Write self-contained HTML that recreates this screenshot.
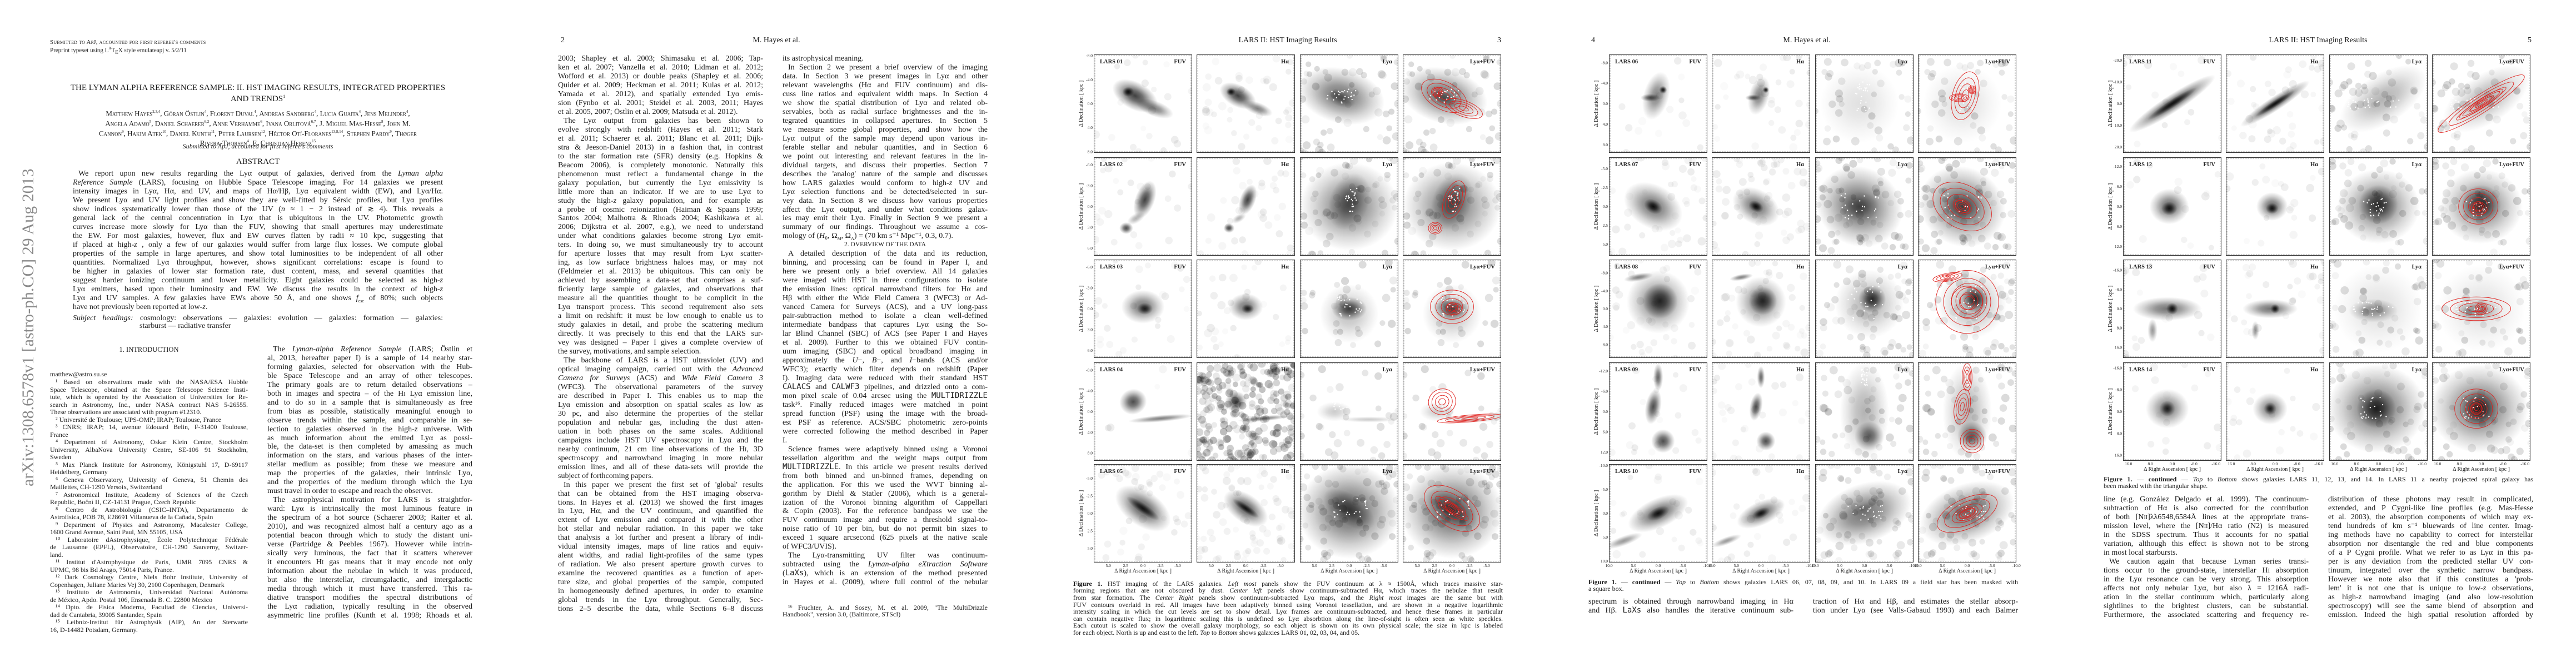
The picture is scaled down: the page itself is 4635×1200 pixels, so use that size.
<!DOCTYPE html>
<html><head><meta charset="utf-8">
<style>
html,body{margin:0;padding:0;background:#fff;}
body{width:4635px;height:1200px;position:relative;overflow:hidden;font-family:"Liberation Serif","DejaVu Serif",serif;color:#1a1a1a;}
.page{position:absolute;top:0;width:927px;height:1200px;}
.l{position:absolute;overflow:hidden;text-align:justify;text-align-last:justify;white-space:normal;}
.l.e{text-align-last:left;}
.c{position:absolute;text-align:center;white-space:nowrap;}
.ab{position:absolute;white-space:nowrap;}
svg text{font-family:"Liberation Serif",serif;}
</style></head>
<body>
<div class="page" id="p1" style="left:0">
  <div class="ab" style="left:90px;top:70px;font-size:11px;font-variant:small-caps;letter-spacing:0.2px">Submitted to ApJ, accounted for first referee's comments</div>
  <div class="ab" style="left:90px;top:83px;font-size:11px">Preprint typeset using L<sup style="font-size:7px">A</sup>T<sub style="font-size:9px">E</sub>X style emulateapj v. 5/2/11</div>
  <div class="c" style="left:90px;width:748px;top:150px;font-size:15px;line-height:16px">THE LYMAN ALPHA REFERENCE SAMPLE: II. HST IMAGING RESULTS, INTEGRATED PROPERTIES<br>AND TRENDS<sup style="font-size:8px">1</sup></div>
  <div class="c" style="left:80px;width:768px;top:194px;font-size:13px;line-height:14.5px;font-variant:small-caps">Matthew Hayes<sup style="font-size:7px">2,3,4</sup>, Göran Östlin<sup style="font-size:7px">4</sup>, Florent Duval<sup style="font-size:7px">4</sup>, Andreas Sandberg<sup style="font-size:7px">4</sup>, Lucia Guaita<sup style="font-size:7px">4</sup>, Jens Melinder<sup style="font-size:7px">4</sup>,<br>Angela Adamo<sup style="font-size:7px">5</sup>, Daniel Schaerer<sup style="font-size:7px">6,2</sup>, Anne Verhamme<sup style="font-size:7px">6</sup>, Ivana Orlitová<sup style="font-size:7px">6,7</sup>, J. Miguel Mas-Hesse<sup style="font-size:7px">8</sup>, John M.<br>Cannon<sup style="font-size:7px">9</sup>, Hakim Atek<sup style="font-size:7px">10</sup>, Daniel Kunth<sup style="font-size:7px">11</sup>, Peter Laursen<sup style="font-size:7px">12</sup>, Héctor Otí-Floranes<sup style="font-size:7px">13,8,14</sup>, Stephen Pardy<sup style="font-size:7px">9</sup>, Thøger<br>Rivera-Thorsen<sup style="font-size:7px">4</sup>, E. Christian Herenz<sup style="font-size:7px">15</sup></div>
  <div class="c" style="left:90px;width:748px;top:256px;font-size:12px;font-style:italic">Submitted to ApJ, accounted for first referee's comments</div>
  <div class="c" style="left:90px;width:748px;top:283px;font-size:15px">ABSTRACT</div>
  <div class="ab" style="left:33px;top:293px;height:593px;font-size:30px;color:#8a8a8a;writing-mode:vertical-rl;transform:rotate(180deg);text-align:center;line-height:36px">arXiv:1308.6578v1 [astro-ph.CO] 29 Aug 2013</div>
  <div class="c" style="left:90px;width:356px;top:622px;font-size:12.5px">1. INTRODUCTION</div>
</div>
<div class="page" id="p2" style="left:927px">
  <div class="ab" style="left:82px;top:65px;font-size:14px">2</div>
  <div class="c" style="left:370px;width:200px;top:65px;font-size:14px">M. Hayes et al.</div>
</div>
<div class="page" id="p3" style="left:1854px">
  <div class="c" style="left:363px;width:200px;top:65px;font-size:14px">LARS II: HST Imaging Results</div>
  <div class="ab" style="left:840px;top:65px;font-size:14px">3</div>
</div>
<div class="page" id="p4" style="left:2781px">
  <div class="ab" style="left:82px;top:65px;font-size:14px">4</div>
  <div class="c" style="left:370px;width:200px;top:65px;font-size:14px">M. Hayes et al.</div>
</div>
<div class="page" id="p5" style="left:3708px">
  <div class="c" style="left:363px;width:200px;top:65px;font-size:14px">LARS II: HST Imaging Results</div>
  <div class="ab" style="left:840px;top:65px;font-size:14px">5</div>
</div>

<script>
function addLines(pageId, name, x, y0, pitch, width, fs, arr){
  const pg=document.getElementById(pageId);
  arr.forEach((s,i)=>{
    const d=document.createElement('div');
    
    
    let last=false, ind=false;
    if(s.endsWith('|')){last=true;s=s.slice(0,-1);}
    if(s.startsWith('>')){ind=true;s=s.slice(1);}
    d.className='l'+(last?' e':'');
    d.style.left=(x+(ind?10:0))+'px';
    d.style.width=(width-(ind?10:0))+'px';
    d.style.top=(y0+i*pitch-pitch/2)+'px';
    d.style.height=pitch+'px';
    d.style.lineHeight=pitch+'px';
    d.style.fontSize=fs+'px';
    d.innerHTML=s;
    pg.appendChild(d);
  });
}
const abstractLines=[
">We report upon new results regarding the Lyα output of galaxies, derived from the <i>Lyman alpha</i>",
"<i>Reference Sample</i> (LARS), focusing on Hubble Space Telescope imaging. For 14 galaxies we present",
"intensity images in Lyα, Hα, and UV, and maps of Hα/Hβ, Lyα equivalent width (EW), and Lyα/Hα.",
"We present Lyα and UV light profiles and show they are well-fitted by Sérsic profiles, but Lyα profiles",
"show indices systematically lower than those of the UV (<i>n</i> ≈ 1 − 2 instead of ≳ 4). This reveals a",
"general lack of the central concentration in Lyα that is ubiquitous in the UV. Photometric growth",
"curves increase more slowly for Lyα than the FUV, showing that small apertures may underestimate",
"the EW. For most galaxies, however, flux and EW curves flatten by radii ≈ 10 kpc, suggesting that",
"if placed at high-<i>z</i> , only a few of our galaxies would suffer from large flux losses. We compute global",
"properties of the sample in large apertures, and show total luminosities to be independent of all other",
"quantities. Normalized Lyα throughput, however, shows significant correlations: escape is found to",
"be higher in galaxies of lower star formation rate, dust content, mass, and several quantities that",
"suggest harder ionizing continuum and lower metallicity. Eight galaxies could be selected as high-<i>z</i>",
"Lyα emitters, based upon their luminosity and EW. We discuss the results in the context of high-<i>z</i>",
"Lyα and UV samples. A few galaxies have EWs above 50 Å, and one shows <i>f</i><sub style='font-size:8px'>esc</sub> of 80%; such objects",
"have not previously been reported at low-<i>z</i>.|",
];
addLines('p1','abstract',131,313,16,666,14,abstractLines);
addLines('p1','subject-headings',131,573,14.5,666,14,[
"<i>Subject headings:</i> cosmology: observations — galaxies: evolution — galaxies: formation — galaxies:",
"<span style='padding-left:120px'></span>starburst — radiative transfer|"]);
addLines('p1','affiliation-footnote',90,674,13.5,356,12,["matthew@astro.su.se|"]);
addLines('p1','affiliation-footnote',90,688,13.5,356,12,[
">¹ Based on observations made with the NASA/ESA Hubble","Space Telescope, obtained at the Space Telescope Science Insti-","tute, which is operated by the Association of Universities for Re-","search in Astronomy, Inc., under NASA contract NAS 5-26555.","These observations are associated with program #12310.|",
">² Université de Toulouse; UPS-OMP; IRAP; Toulouse, France|",">³ CNRS; IRAP; 14, avenue Edouard Belin, F-31400 Toulouse,","France|",
">⁴ Department of Astronomy, Oskar Klein Centre, Stockholm","University, AlbaNova University Centre, SE-106 91 Stockholm,","Sweden|",
">⁵ Max Planck Institute for Astronomy, Königstuhl 17, D-69117","Heidelberg, Germany|",
">⁶ Geneva Observatory, University of Geneva, 51 Chemin des","Maillettes, CH-1290 Versoix, Switzerland|",
">⁷ Astronomical Institute, Academy of Sciences of the Czech","Republic, Boční II, CZ-14131 Prague, Czech Republic|",
">⁸ Centro de Astrobiología (CSIC–INTA), Departamento de","Astrofísica, POB 78, E28691 Villanueva de la Cañada, Spain|",
">⁹ Department of Physics and Astronomy, Macalester College,","1600 Grand Avenue, Saint Paul, MN 55105, USA|",
">¹⁰ Laboratoire dAstrophysique, École Polytechnique Fédérale","de Lausanne (EPFL), Observatoire, CH-1290 Sauverny, Switzer-","land.|",
">¹¹ Institut d'Astrophysique de Paris, UMR 7095 CNRS &","UPMC, 98 bis Bd Arago, 75014 Paris, France.|",
">¹² Dark Cosmology Centre, Niels Bohr Institute, University of","Copenhagen, Juliane Maries Vej 30, 2100 Copenhagen, Denmark|",
">¹³ Instituto de Astronomía, Universidad Nacional Autónoma","de México, Apdo. Postal 106, Ensenada B. C. 22800 Mexico|",
">¹⁴ Dpto. de Física Moderna, Facultad de Ciencias, Universi-","dad de Cantabria, 39005 Santander, Spain|",
">¹⁵ Leibniz-Institut für Astrophysik (AIP), An der Sterwarte","16, D-14482 Potsdam, Germany.|"]);
addLines('p1','intro-text',481,629,15.95,369,14,[
">The <i>Lyman-alpha Reference Sample</i> (LARS; Östlin et","al, 2013, hereafter paper I) is a sample of 14 nearby star-","forming galaxies, selected for observation with the Hub-","ble Space Telescope and an array of other telescopes.","The primary goals are to return detailed observations –","both in images and spectra – of the H<span style='font-variant:small-caps'>i</span> Lyα emission line,","and to do so in a sample that is simultaneously as free","from bias as possible, statistically meaningful enough to","observe trends within the sample, and comparable in se-","lection to galaxies observed in the high-<i>z</i> universe. With","as much information about the emitted Lyα as possi-","ble, the data-set is then completed by amassing as much","information on the stars, and various phases of the inter-","stellar medium as possible; from these we measure and","map the properties of the galaxies, their intrinsic Lyα,","and the properties of the medium through which the Lyα","must travel in order to escape and reach the observer.|",
">The astrophysical motivation for LARS is straightfor-","ward: Lyα is intrinsically the most luminous feature in","the spectrum of a hot source (Schaerer 2003; Raiter et al.","2010), and was recognized almost half a century ago as a","potential beacon through which to study the distant uni-","verse (Partridge &amp; Peebles 1967). However while intrin-","sically very luminous, the fact that it scatters wherever","it encounters H<span style='font-variant:small-caps'>i</span> gas means that it may encode not only","information about the nebulae in which it was produced,","but also the interstellar, circumgalactic, and intergalactic","media through which it must have transferred. This ra-","diative transport modifies the spectral distributions of","the Lyα radiation, typically resulting in the observed","asymmetric line profiles (Kunth et al. 1998; Rhoads et al."]);

addLines('p2','body-text',77,106,15.97,369,14,[
"2003; Shapley et al. 2003; Shimasaku et al. 2006; Tap-","ken et al. 2007; Vanzella et al. 2010; Lidman et al. 2012;","Wofford et al. 2013) or double peaks (Shapley et al. 2006;","Quider et al. 2009; Heckman et al. 2011; Kulas et al. 2012;","Yamada et al. 2012), and spatially extended Lyα emis-","sion (Fynbo et al. 2001; Steidel et al. 2003, 2011; Hayes","et al. 2005, 2007; Östlin et al. 2009; Matsuda et al. 2012).|",
">The Lyα output from galaxies has been shown to","evolve strongly with redshift (Hayes et al. 2011; Stark","et al. 2011; Schaerer et al. 2011; Blanc et al. 2011; Dijk-","stra &amp; Jeeson-Daniel 2013) in a fashion that, in contrast","to the star formation rate (SFR) density (e.g. Hopkins &amp;","Beacom 2006), is completely monotonic. Naturally this","phenomenon must reflect a fundamental change in the","galaxy population, but currently the Lyα emissivity is","little more than an indicator. If we are to use Lyα to","study the high-<i>z</i> galaxy population, and for example as","a probe of cosmic reionization (Haiman &amp; Spaans 1999;","Santos 2004; Malhotra &amp; Rhoads 2004; Kashikawa et al.","2006; Dijkstra et al. 2007, e.g.), we need to understand","under what conditions galaxies become strong Lyα emit-","ters. In doing so, we must simultaneously try to account","for aperture losses that may result from Lyα scatter-","ing, as low surface brightness haloes may, or may not","(Feldmeier et al. 2013) be ubiquitous. This can only be","achieved by assembling a data-set that comprises a suf-","ficiently large sample of galaxies, and observations that","measure all the quantities thought to be complicit in the","Lyα transport process. This second requirement also sets","a limit on redshift: it must be low enough to enable us to","study galaxies in detail, and probe the scattering medium","directly. It was precisely to this end that the LARS sur-","vey was designed – Paper I gives a complete overview of","the survey, motivations, and sample selection.|",
">The backbone of LARS is a HST ultraviolet (UV) and","optical imaging campaign, carried out with the <i>Advanced</i>","<i>Camera for Surveys</i> (ACS) and <i>Wide Field Camera 3</i>","(WFC3). The observational parameters of the survey","are described in Paper I. This enables us to map the","Lyα emission and absorption on spatial scales as low as","30 pc, and also determine the properties of the stellar","population and nebular gas, including the dust atten-","uation in both phases on the same scales. Additional","campaigns include HST UV spectroscopy in Lyα and the","nearby continuum, 21 cm line observations of the H<span style='font-variant:small-caps'>i</span>, 3D","spectroscopy and narrowband imaging in more nebular","emission lines, and all of these data-sets will provide the","subject of forthcoming papers.|",
">In this paper we present the first set of 'global' results","that can be obtained from the HST imaging observa-","tions. In Hayes et al. (2013) we showed the first images","in Lyα, Hα, and the UV continuum, and quantified the","extent of Lyα emission and compared it with the other","hot stellar and nebular radiation. In this paper we take","that analysis a lot further and present a library of indi-","vidual intensity images, maps of line ratios and equiv-","alent widths, and radial light-profiles of the same types","of radiation. We also present aperture growth curves to","examine the recovered quantities as a function of aper-","ture size, and global properties of the sample, computed","in homogeneously defined apertures, in order to examine","global trends in the Lyα throughput. Generally, Sec-","tions 2–5 describe the data, while Sections 6–8 discuss"]);
addLines('p2','body-text',481,106,15.97,369,14,[
"its astrophysical meaning.|",
">In Section 2 we present a brief overview of the imaging","data. In Section 3 we present images in Lyα and other","relevant wavelengths (Hα and FUV continuum) and dis-","cuss line ratios and equivalent width maps. In Section 4","we show the spatial distribution of Lyα and related ob-","servables, both as radial surface brightnesses and the in-","tegrated quantities in collapsed apertures. In Section 5","we measure some global properties, and show how the","Lyα output of the sample may depend upon various in-","ferable stellar and nebular quantities, and in Section 6","we point out interesting and relevant features in the in-","dividual targets, and discuss their properties. Section 7","describes the 'analog' nature of the sample and discusses","how LARS galaxies would conform to high-<i>z</i> UV and","Lyα selection functions and be detected/selected in sur-","vey data. In Section 8 we discuss how various properties","affect the Lyα output, and under what conditions galax-","ies may emit their Lyα. Finally in Section 9 we present a","summary of our findings. Throughout we assume a cos-","mology of (<i>H</i>₀, Ω<sub style='font-size:8px'>M</sub>, Ω<sub style='font-size:8px'>Λ</sub>) = (70 km s⁻¹ Mpc⁻¹, 0.3, 0.7).|",
"<div style='text-align:center;text-align-last:center;font-size:11.5px'>2. OVERVIEW OF THE DATA</div>|",
">A detailed description of the data and its reduction,","binning, and processing can be found in Paper I, and","here we present only a brief overview. All 14 galaxies","were imaged with HST in three configurations to isolate","the emission lines: optical narrowband filters for Hα and","Hβ with either the Wide Field Camera 3 (WFC3) or Ad-","vanced Camera for Surveys (ACS), and a UV long-pass","pair-subtraction method to isolate a clean well-defined","intermediate bandpass that captures Lyα using the So-","lar Blind Channel (SBC) of ACS (see Paper I and Hayes","et al. 2009). Further to this we obtained FUV contin-","uum imaging (SBC) and optical broadband imaging in","approximately the <i>U</i>−, <i>B</i>−, and <i>I</i>−bands (ACS and/or","WFC3); exactly which filter depends on redshift (Paper","I). Imaging data were reduced with their standard HST","<tt>CALACS</tt> and <tt>CALWF3</tt> pipelines, and drizzled onto a com-","mon pixel scale of 0.04 arcsec using the <tt>MULTIDRIZZLE</tt>","task¹⁶. Finally reduced images were matched in point","spread function (PSF) using the image with the broad-","est PSF as reference. ACS/SBC photometric zero-points","were corrected following the method described in Paper","I.|",
">Science frames were adaptively binned using a Voronoi","tessellation algorithm and the weight maps output from","<tt>MULTIDRIZZLE</tt>. In this article we present results derived","from both binned and un-binned frames, depending on","the application. For this we used the WVT binning al-","gorithm by Diehl &amp; Statler (2006), which is a general-","ization of the Voronoi binning algorithm of Cappellari","&amp; Copin (2003). For the reference bandpass we use the","FUV continuum image and require a threshold signal-to-","noise ratio of 10 per bin, but do not permit bin sizes to","exceed 1 square arcsecond (625 pixels at the native scale","of WFC3/UVIS).|",
">The Lyα-transmitting UV filter was continuum-","subtracted using the <i>Lyman-alpha eXtraction Software</i>","(<tt>LaXs</tt>), which is an extension of the method presented","in Hayes et al. (2009), where full control of the nebular"]);
addLines('p2','footnote',481,1093,12.5,369,12,[">¹⁶ Fruchter, A. and Sosey, M. et al. 2009, \"The MultiDrizzle","Handbook\", version 3.0, (Baltimore, STScI)|"]);

addLines('p3','figure-caption',77,1050,12.6,773,12,[
"<b>Figure 1.</b> HST imaging of the LARS galaxies. <i>Left most</i> panels show the FUV continuum at λ ≈ 1500Å, which traces massive star-",
"forming regions that are not obscured by dust. <i>Center left</i> panels show continuum-subtracted Hα, which traces the nebulae that result",
"from star formation. The <i>Center Right</i> panels show continuum-subtracted Lyα maps, and the <i>Right most</i> images are the same but with",
"FUV contours overlaid in red. All images have been adaptively binned using Voronoi tessellation, and are shown in a negative logarithmic",
"intensity scaling in which the cut levels are set to show detail. Lyα frames are continuum-subtracted, and hence these frames in particular",
"can contain negative flux; in logarithmic scaling this is undefined so Lyα absorbtion along the line-of-sight is often seen as white speckles.",
"Each cutout is scaled to show the overall galaxy morphology, so each object is shown on its own physical scale; the size in kpc is labeled",
"for each object. North is up and east to the left. <i>Top</i> to <i>Bottom</i> shows galaxies LARS 01, 02, 03, 04, and 05.|"]);
addLines('p4','figure-caption',77,1047,12.6,773,12,[
"<b>Figure 1.</b> — <b>continued</b> — <i>Top</i> to <i>Bottom</i> shows galaxies LARS 06, 07, 08, 09, and 10. In LARS 09 a field star has been masked with","a square box.|"]);
addLines('p4','body-text',77,1083,15.97,369,14,["spectrum is obtained through narrowband imaging in Hα","and Hβ. <tt>LaXs</tt> also handles the iterative continuum sub-"]);
addLines('p4','body-text',481,1083,15.97,369,14,["traction of Hα and Hβ, and estimates the stellar absorp-","tion under Lyα (see Valls-Gabaud 1993) and each Balmer"]);
addLines('p5','figure-caption',77,862,12.6,773,12,[
"<b>Figure 1.</b> — <b>continued</b> — <i>Top</i> to <i>Bottom</i> shows galaxies LARS 11, 12, 13, and 14. In LARS 11 a nearby projected spiral galaxy has","been masked with the triangular shape.|"]);
addLines('p5','body-text',77,899,15.97,369,14,[
"line (e.g. González Delgado et al. 1999). The continuum-","subtraction of Hα is also corrected for the contribution","of both [N<span style='font-variant:small-caps'>ii</span>]λλ6548,6584Å lines at the appropriate trans-","mission level, where the [N<span style='font-variant:small-caps'>ii</span>]/Hα ratio (N2) is measured","in the SDSS spectrum. Thus it accounts for no spatial","variation, although this effect is shown not to be strong","in most local starbursts.|",
">We caution again that because Lyman series transi-","tions occur to the ground-state, interstellar H<span style='font-variant:small-caps'>i</span> absorption","in the Lyα resonance can be very strong. This absorption","affects not only nebular Lyα, but also λ = 1216Å radi-","ation in the stellar continuum which, particularly along","sightlines to the brightest clusters, can be substantial.","Furthermore, the associated scattering and frequency re-"]);
addLines('p5','body-text',481,899,15.97,369,14,[
"distribution of these photons may result in complicated,","extended, and P Cygni-like line profiles (e.g. Mas-Hesse","et al. 2003), the absorption components of which may ex-","tend hundreds of km s⁻¹ bluewards of line center. Imag-","ing methods have no capability to correct for interstellar","absorption nor disentangle the red and blue components","of a P Cygni profile. What we refer to as Lyα in this pa-","per is any deviation from the predicted stellar UV con-","tinuum, integrated over the synthetic narrow bandpass.","However we note also that if this constitutes a 'prob-","lem' it is not one that is unique to low-<i>z</i> observations,","as high-<i>z</i> narrowband imaging (and also low-resolution","spectroscopy) will see the same blend of absorption and","emission. Indeed the high spatial resolution afforded by"]);
</script>

<script>
const galaxyNames=["LARS 01","LARS 02","LARS 03","LARS 04","LARS 05","LARS 06","LARS 07","LARS 08","LARS 09","LARS 10","LARS 11","LARS 12","LARS 13","LARS 14"];
const bandLabels=["FUV","Hα","Lyα","Lyα+FUV"];
const fuvBlobs=[
 [[.42,.42,.25,.14,28,.75],[.62,.55,.2,.08,20,.5],[.35,.38,.06,.05,0,.9]],
 [[.52,.43,.1,.2,20,.75],[.33,.72,.07,.06,0,.7],[.43,.62,.1,.05,-30,.3]],
 [[.5,.48,.22,.17,0,.55],[.52,.5,.08,.06,0,.8]],
 [[.4,.4,.14,.13,-20,.7],[.68,.57,.33,.035,-5,.5]],
 [[.5,.45,.32,.18,35,.65],[.5,.45,.2,.05,35,.8]],
 [[.48,.42,.13,.25,15,.5],[.42,.44,.1,.04,0,.6],[.55,.36,.04,.04,0,.9]],
 [[.45,.5,.32,.22,30,.55],[.45,.5,.1,.07,30,.9]],
 [[.5,.43,.32,.32,0,.5],[.52,.42,.18,.18,0,.75],[.3,.18,.15,.04,-10,.5]],
 [[.5,.15,.05,.14,0,.6],[.45,.45,.08,.18,10,.7],[.55,.8,.12,.12,0,.7]],
 [[.5,.5,.33,.15,-25,.6],[.5,.5,.12,.06,-25,.85],[.15,.78,.2,.05,-20,.4]],
 [[.5,.5,.52,.09,-33,.7],[.5,.5,.3,.04,-33,.8]],
 [[.47,.5,.2,.18,0,.6],[.47,.52,.08,.07,0,.85]],
 [[.45,.5,.35,.12,0,.55],[.5,.5,.06,.06,0,.9],[.3,.72,.05,.12,0,.4]],
 [[.45,.47,.22,.2,0,.5],[.45,.47,.08,.08,0,.8]]
];
const lyaBlobs=[
 [[.42,.42,.45,.28,15,.55],[.42,.45,.15,.08,20,.4]],
 [[.5,.5,.5,.45,0,.5],[.5,.45,.2,.3,20,.5]],
 [[.5,.5,.18,.12,0,.7],[.5,.55,.3,.3,0,.25]],
 [[.35,.5,.18,.1,0,.2],[.7,.58,.3,.03,0,.2]],
 [[.5,.48,.52,.48,0,.6],[.5,.46,.3,.15,35,.5]],
 [[.45,.5,.4,.4,0,.12]],
 [[.45,.5,.45,.4,30,.6],[.45,.5,.2,.15,0,.4]],
 [[.55,.45,.35,.35,0,.3],[.58,.4,.14,.14,0,.8]],
 [[.5,.5,.25,.5,0,.3],[.55,.75,.15,.15,0,.6]],
 [[.5,.5,.5,.3,-20,.55],[.5,.45,.15,.05,-25,.2]],
 [[.55,.45,.5,.25,-33,.3]],
 [[.5,.5,.42,.38,0,.5],[.5,.48,.2,.2,0,.7]],
 [[.45,.52,.25,.12,0,.4],[.5,.5,.45,.45,0,.12]],
 [[.48,.47,.5,.45,0,.55],[.48,.47,.2,.2,0,.75]]
];
const bgCount=[[20,40,50],[25,35,60],[25,30,30],[5,260,30],[40,70,70],[15,35,40],[40,60,70],[35,50,60],[20,30,50],[25,30,70],[15,40,50],[15,20,50],[20,30,45],[15,20,50]];
const yTicksP3=[[-8,-4,0,4,8],[-6,-3,0,3,6],[-6,-3,0,3,6],[-8,-4,0,4,8],[-5,-2.5,0,2.5,5]];
const yRangeP3=[8.2,7.1,7.1,9.5,7.0];
const xTicksP3=[5,2.5,0,-2.5,-5]; const xRangeP3=7.1;
const yTicksP4=[[-8,-4,0,4,8],[-5,-2.5,0,2.5,5],[-8,-4,0,4,8],[-12,-6,0,6,12],[-10,-5,0,5,10]];
const yRangeP4=[9.6,6.5,11,14.5,10.3];
const xTicksP4=[10,5,0,-5,-10]; const xRangeP4=10;
const yTicksP5=[[-20,-10,0,10,20],[-12,-6,0,6,12],[-16,-8,0,8,16],[-16,-8,0,8,16]];
const yRangeP5=[22.7,14.8,20.4,18];
const xTicksP5=[16,8,0,-8,-16]; const xRangeP5=18;

const S=177, colX=[114,299,485,670], rowTop=[98,283,467,652,835];
const NS='http://www.w3.org/2000/svg';
function hsh(n){const x=Math.sin(n*12.9898+78.233)*43758.5453;return x-Math.floor(x);}
function el(tag,attrs){const e=document.createElementNS(NS,tag);for(const k in attrs)e.setAttribute(k,attrs[k]);return e;}
function fmt(v){return v.toFixed(1);}

function buildFigure(pageId, gals, yT, yR, xT, xR, dx){
  const pg=document.getElementById(pageId);
  const svg=el('svg',{width:927,height:1200,style:'position:absolute;left:0;top:0'});
  
  
  const defs=el('defs',{});
  const rg=el('radialGradient',{id:'gb'+pageId});
  [['0%',1],['35%',0.75],['70%',0.3],['100%',0]].forEach(s=>rg.appendChild(el('stop',{offset:s[0],'stop-color':'#000','stop-opacity':s[1]})));
  defs.appendChild(rg); svg.appendChild(defs);
  const yScale=(v,r,row)=>rowTop[row]+S/2+v/r*(S/2);
  const xScale=(v,col)=>colX[col]+dx+S/2-v/xR*(S/2);
  gals.forEach((g,row)=>{
    const top=rowTop[row];
    for(let col=0;col<4;col++){
      const left=colX[col]+dx;
      const grp=el('g',{transform:`translate(${left},${top})`});
      
      
      const cp=el('clipPath',{id:`c${pageId}${row}${col}`});cp.appendChild(el('rect',{x:0,y:0,width:S,height:S}));defs.appendChild(cp);
      const inner=el('g',{'clip-path':`url(#c${pageId}${row}${col})`});
      inner.appendChild(el('rect',{x:0,y:0,width:S,height:S,fill:'#fff'}));
      const bi=Math.min(col,2), n=bgCount[g][bi];
      const bop = bi===2?0.13:(n>200?0.22:0.06);
      for(let i=0;i<n;i++){
        const seed=g*1000+bi*300+i;
        inner.appendChild(el('circle',{cx:hsh(seed)*S,cy:hsh(seed+0.37)*S,r:5+hsh(seed+0.71)*2.5,fill:'#000','fill-opacity':(bop*(0.3+hsh(seed+0.13)*0.9)).toFixed(3)}));
      }
      const blobs = col>=2 ? lyaBlobs[g] : fuvBlobs[g];
      const sc = col===1?0.8:1;
      blobs.forEach(b=>{
        inner.appendChild(el('ellipse',{cx:b[0]*S,cy:b[1]*S,rx:b[2]*S*sc,ry:b[3]*S*sc,fill:`url(#gb${pageId})`,opacity:b[5],transform:`rotate(${b[4]} ${b[0]*S} ${b[1]*S})`}));
      });
      if(col===2||col===3){
        for(let i=0;i<25;i++){const b=fuvBlobs[g][0];const seed=g*77+i;
          inner.appendChild(el('circle',{cx:(b[0]+(hsh(seed)-0.5)*b[2]*1.2)*S,cy:(b[1]+(hsh(seed+.5)-0.5)*b[3]*1.2)*S,r:1.2,fill:'#fff'}));}
      }
      if(col===3){
        fuvBlobs[g].forEach(b=>{ if(b[5]<0.5) return;
          [1.0,0.75,0.5,0.25].forEach(k=>{
            const c=el('ellipse',{cx:b[0]*S,cy:b[1]*S,rx:b[2]*S*k,ry:b[3]*S*k,fill:'none',stroke:'#e0201c','stroke-width':0.9,transform:`rotate(${b[4]} ${b[0]*S} ${b[1]*S})`});
            
            
            inner.appendChild(c);
          });
        });
      }
      grp.appendChild(inner);
      grp.appendChild(el('rect',{x:1.5,y:1.5,width:S-3,height:S-3,fill:'none',stroke:'#444','stroke-width':3,'stroke-dasharray':'0.8 2.2','stroke-opacity':0.6}));
      grp.appendChild(el('rect',{x:0.5,y:0.5,width:S-1,height:S-1,fill:'none',stroke:'#333','stroke-width':1}));
      if(col===0){const t=el('text',{x:11,y:16,'font-size':10.5,'font-weight':'bold',fill:'#222'});t.textContent=galaxyNames[g];
        grp.appendChild(t);}
      const bt=el('text',{x:S-11,y:16,'font-size':10.5,'font-weight':'bold','text-anchor':'end',fill:'#222'});bt.textContent=bandLabels[col];
      grp.appendChild(bt);
      svg.appendChild(grp);
    }
    yT[row].forEach(v=>{
      const t=el('text',{x:colX[0]+dx-2,y:yScale(v,yR[row],row)+2.5,'font-size':7.5,'text-anchor':'end',fill:'#222'});
      t.textContent=fmt(v);
      
      svg.appendChild(t);
    });
    const yt=el('text',{x:0,y:0,'font-size':10,'text-anchor':'middle',fill:'#222',transform:`translate(${colX[0]+dx-20},${top+S/2}) rotate(-90)`});
    yt.textContent='Δ Declination [ kpc ]';
    
    svg.appendChild(yt);
  });
  const lastBottom=rowTop[gals.length-1]+S;
  for(let col=0;col<4;col++){
    xT.forEach(v=>{
      const t=el('text',{x:xScale(v,col),y:lastBottom+8,'font-size':7.5,'text-anchor':'middle',fill:'#222'});
      t.textContent=fmt(v);
      
      svg.appendChild(t);
    });
    const xt=el('text',{x:colX[col]+dx+S/2,y:lastBottom+18,'font-size':10,'text-anchor':'middle',fill:'#222'});
    xt.textContent='Δ Right Ascension [ kpc ]';
    
    svg.appendChild(xt);
  }
  pg.appendChild(svg);
}
buildFigure('p3',[0,1,2,3,4],yTicksP3,yRangeP3,xTicksP3,xRangeP3,0);
buildFigure('p4',[5,6,7,8,9],yTicksP4,yRangeP4,xTicksP4,xRangeP4,0);
buildFigure('p5',[10,11,12,13],yTicksP5,yRangeP5,xTicksP5,xRangeP5,-2);
</script>
</body></html>
